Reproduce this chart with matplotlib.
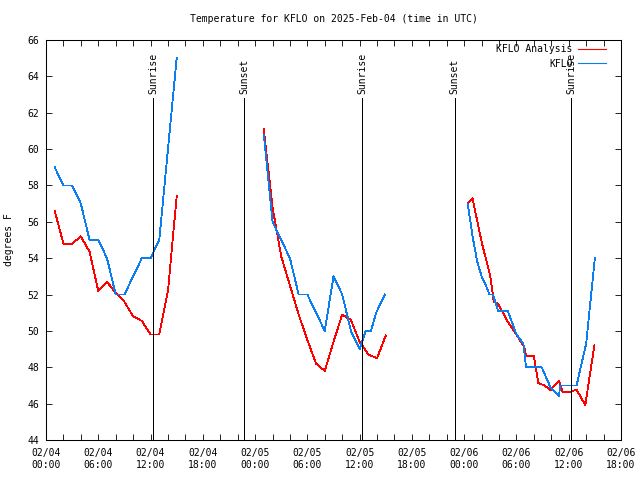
import matplotlib
matplotlib.use('Agg')
import matplotlib.pyplot as plt
import matplotlib.dates as mdates
import numpy as np
import pandas as pd

plt.rcParams['font.family'] = 'DejaVu Sans Mono'
plt.rcParams['font.size'] = 7

start = pd.Timestamp('2025-02-04 00:00')

# hours after 02/04 00:00 UTC, nan = gap between the three data pieces
ana_hours = [1, 2, 3, 4, 5, 6, 7, 8, 9, 10, 11, 12, 13, 14, 15, np.nan,
             25, 26, 27, 28, 29, 30, 31, 32, 33, 34, 35, 36, 37, 38, 39, np.nan,
             48.4, 48.95, 50.0, 51.0, 51.4, 51.75, 52.0, 53.0, 54.0, 54.9, 55.1,
             56.0, 56.5, 57.3, 57.9, 58.9, 59.3, 60.1, 60.9, 61.9, 62.95]
ana_temps = [56.6, 54.8, 54.8, 55.2, 54.35, 52.2, 52.7, 52.1, 51.6, 50.8, 50.55, 49.8, 49.8, 52.2, 57.4, np.nan,
             61.1, 56.8, 54.1, 52.5, 50.9, 49.5, 48.2, 47.8, 49.4, 50.9, 50.6, 49.4, 48.7, 48.5, 49.75, np.nan,
             57.0, 57.3, 54.9, 53.0, 51.6, 51.55, 51.4, 50.5, 49.8, 49.1, 48.6,
             48.6, 47.15, 46.97, 46.75, 47.25, 46.64, 46.64, 46.77, 45.92, 49.22]

obs_hours = [1, 2, 3, 4, 5, 6, 7, 8, 9, 10, 11, 12, 13, 14, 15, np.nan,
             25, 26, 27, 28, 29, 30, 31, 32, 33, 34, 35, 36, 36.7, 37.3, 37.9, 38.9, np.nan,
             48.4, 49.0, 49.5, 50.0, 50.5, 50.9, 51.3, 51.9, 53.0, 54.0, 54.8, 55.1,
             56.9, 57.9, 58.9, 59.0, 60.9, 62.0, 63.0]
obs_temps = [59, 58, 58, 57, 55, 55, 54, 52, 52, 53, 54, 54, 55, 60, 65, np.nan,
             60.8, 56, 55, 54, 52, 52, 51, 50, 53, 52, 50, 49, 50, 50, 51, 52, np.nan,
             57.0, 55.1, 53.8, 53.0, 52.5, 52.0, 52.0, 51.1, 51.1, 49.8, 49.3, 48.0,
             48.0, 46.9, 46.4, 47.0, 47.0, 49.3, 54.0]

sun_times = ['2025-02-04 12:19', '2025-02-04 22:47', '2025-02-05 12:19',
             '2025-02-05 22:55', '2025-02-06 12:19']
sun_labels = ['Sunrise', 'Sunset', 'Sunrise', 'Sunset', 'Sunrise']

t0 = mdates.date2num(start.to_pydatetime())
x_ana = t0 + np.array(ana_hours) / 24.0
x_obs = t0 + np.array(obs_hours) / 24.0

fig = plt.figure(figsize=(6.4, 4.8), dpi=100)
ax = fig.add_axes([46/640, 40/480, 575/640, 400/480])
ax.xaxis_date()

lw = 0.6
ax.plot(x_ana, ana_temps, color='#ff0000', lw=lw, label='KFLO Analysis', antialiased=False)
ax.plot(x_obs, obs_temps, color='#0a7ef0', lw=lw, label='KFLO', antialiased=False)

for t, lab in zip(sun_times, sun_labels):
    xs = mdates.date2num(pd.Timestamp(t).to_pydatetime())
    ax.plot([xs, xs], [44, 62.8], color='black', lw=lw, antialiased=False)
    ax.text(xs, 63.05, lab, rotation=90, ha='center', va='bottom')

ax.set_xlim(t0, t0 + 66/24.0)
ax.set_ylim(44, 66)
ax.set_yticks(np.arange(44, 67, 2))

ax.xaxis.set_major_locator(mdates.HourLocator(byhour=[0, 6, 12, 18]))
ax.xaxis.set_minor_locator(mdates.HourLocator(byhour=range(0, 24, 2)))
ax.xaxis.set_major_formatter(mdates.DateFormatter('%m/%d\n%H:%M'))

ax.tick_params(which='both', direction='in', top=True, right=True, width=0.6)
ax.tick_params(which='major', length=4.5)
ax.tick_params(which='minor', length=4.0)
ax.tick_params(axis='y', pad=5)
ax.tick_params(axis='x', pad=6)
for s in ax.spines.values():
    s.set_linewidth(0.75)

ax.set_ylabel('degrees F')
ax.yaxis.set_label_coords(-0.055, 0.5)

ax.text(0.5, 1 + 21/400, 'Temperature for KFLO on 2025-Feb-04 (time in UTC)',
        transform=ax.transAxes, ha='center', va='center')

leg = ax.legend(loc='upper right', bbox_to_anchor=(0.981, 1.0), frameon=False,
                markerfirst=False, handlelength=2.9, handletextpad=0.5,
                borderpad=0.45, borderaxespad=0, labelspacing=0.45)
for h in leg.get_lines():
    h.set_linewidth(0.8)

fig.savefig('out.png', dpi=100)
